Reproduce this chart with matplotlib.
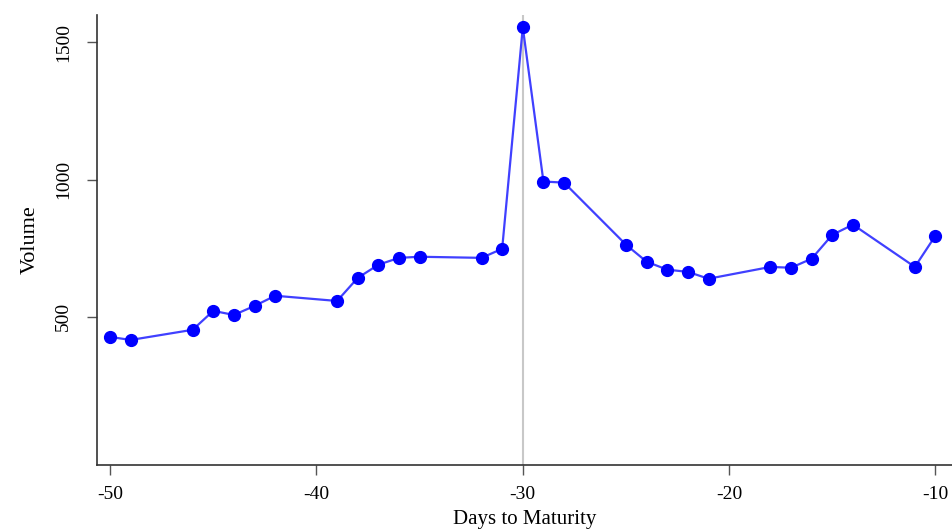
import matplotlib
matplotlib.use("Agg")
import matplotlib.pyplot as plt

days = [-50, -49, -46, -45, -44, -43, -42, -39, -38, -37, -36, -35, -32, -31,
        -30, -29, -28, -25, -24, -23, -22, -21, -18, -17, -16, -15, -14, -11, -10]
volume = [427, 416, 453, 522, 507, 540, 577, 558, 642, 690, 715, 719, 715, 748,
          1555, 993, 989, 763, 701, 672, 664, 639, 682, 679, 712, 799, 836, 682, 796]
xticks = [-50, -40, -30, -20, -10]
yticks = [500, 1000, 1500]

plt.rcParams['font.family'] = ['Liberation Serif', 'DejaVu Serif']

fig = plt.figure(figsize=(9.52, 5.31), dpi=100)
ax = fig.add_axes([0.102, 0.124, 0.898, 0.848])

ax.axvline(-30, color='#c8c8c8', lw=1.5, zorder=1)
ax.plot(days, volume, color='#4040ff', lw=1.6, zorder=2)
ax.plot(days, volume, 'o', color='#0000ff', ms=8.5, zorder=3)

ax.set_xlim(-50.63, -9.2)
ax.set_ylim(-40, 1600)
ax.set_xticks(xticks)
ax.set_xticklabels([str(t) for t in xticks], fontsize=14)
ax.set_yticks(yticks)
ax.set_yticklabels([str(t) for t in yticks], fontsize=14, rotation=90, va='center')
ax.tick_params(direction='out', length=7, width=1, color='#555555')
ax.tick_params(axis='x', pad=8)
ax.tick_params(axis='y', pad=11)
ax.set_xlabel('Days to Maturity', fontsize=15, labelpad=5)
ax.set_ylabel('Volume', fontsize=16, labelpad=11)

for s in ['top', 'right']:
    ax.spines[s].set_visible(False)
for s in ['left', 'bottom']:
    ax.spines[s].set_color('#333333')
    ax.spines[s].set_linewidth(1.2)

fig.savefig('out.png', dpi=100)
